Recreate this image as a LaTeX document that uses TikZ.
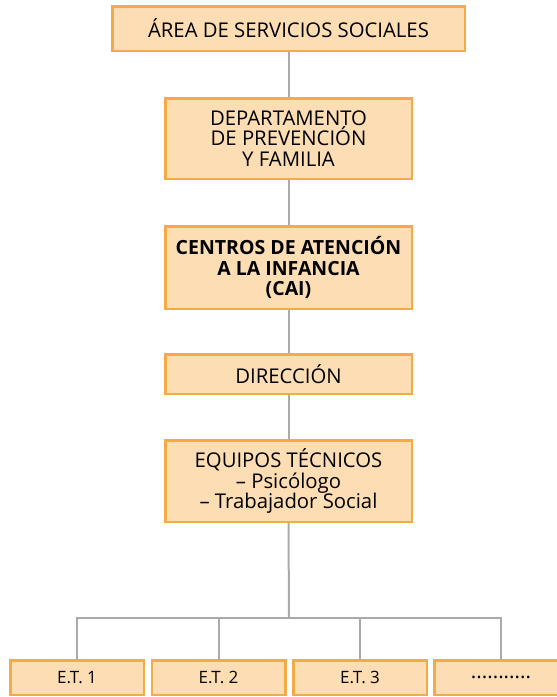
\documentclass[tikz,border=0pt]{standalone}
\usepackage{fontspec}
\setmainfont{Open Sans}
\definecolor{boxfill}{HTML}{FCDDB4}
\definecolor{boxdraw}{HTML}{F4AA45}
\definecolor{linegray}{HTML}{AAAAAA}
\tikzset{
  orgbox/.style={draw=boxdraw, fill=boxfill, line width=2.5pt, inner sep=0pt,
    align=center, font=\fontsize{20.3}{20.5}\selectfont, text=black},
  smallbox/.style={orgbox, minimum width=133.5pt, minimum height=34.5pt,
    font=\fontsize{17}{18}\selectfont},
  conn/.style={draw=linegray, line width=2pt}
}
\begin{document}
\begin{tikzpicture}[x=1pt,y=-1pt]
\useasboundingbox (0,0) rectangle (557,697);
\coordinate (bus) at (289,618);
\node[orgbox, minimum width=352.5pt, minimum height=44.5pt] (area) at (288.5,28.5) {ÁREA DE SERVICIOS SOCIALES};
\node[orgbox, minimum width=246.5pt, minimum height=80.5pt] (dep) at (288.5,138.5) {DEPARTAMENTO\\DE PREVENCIÓN\\Y FAMILIA};
\node[orgbox, minimum width=246.5pt, minimum height=82.5pt, font=\fontsize{19.5}{20.5}\selectfont\bfseries] (cai) at (288.5,267.5) {CENTROS DE ATENCIÓN\\A LA INFANCIA\\(CAI)};
\node[orgbox, minimum width=246.5pt, minimum height=39.5pt] (dir) at (288.5,374) {DIRECCIÓN};
\node[orgbox, minimum width=246.5pt, minimum height=81.5pt] (eq) at (288.5,481) {EQUIPOS TÉCNICOS\\– Psicólogo\\– Trabajador Social};
\node[smallbox] (et1) at (77,677.5) {E.T. 1};
\node[smallbox] (et2) at (218.5,677.5) {E.T. 2};
\node[smallbox] (et3) at (360,677.5) {E.T. 3};
\node[smallbox, font=\fontsize{20.5}{21}\selectfont] (et4) at (501,677.5) {...........};
\draw[conn] (area.south) -- (dep.north);
\draw[conn] (dep.south) -- (cai.north);
\draw[conn] (cai.south) -- (dir.north);
\draw[conn] (dir.south) -- (eq.north);
\draw[conn] (eq.south) -- (bus);
\draw[conn] (et1.north) |- (bus) -| (et4.north);
\draw[conn] (et2.north) -- (et2.north |- bus);
\draw[conn] (et3.north) -- (et3.north |- bus);
\end{tikzpicture}
\end{document}
